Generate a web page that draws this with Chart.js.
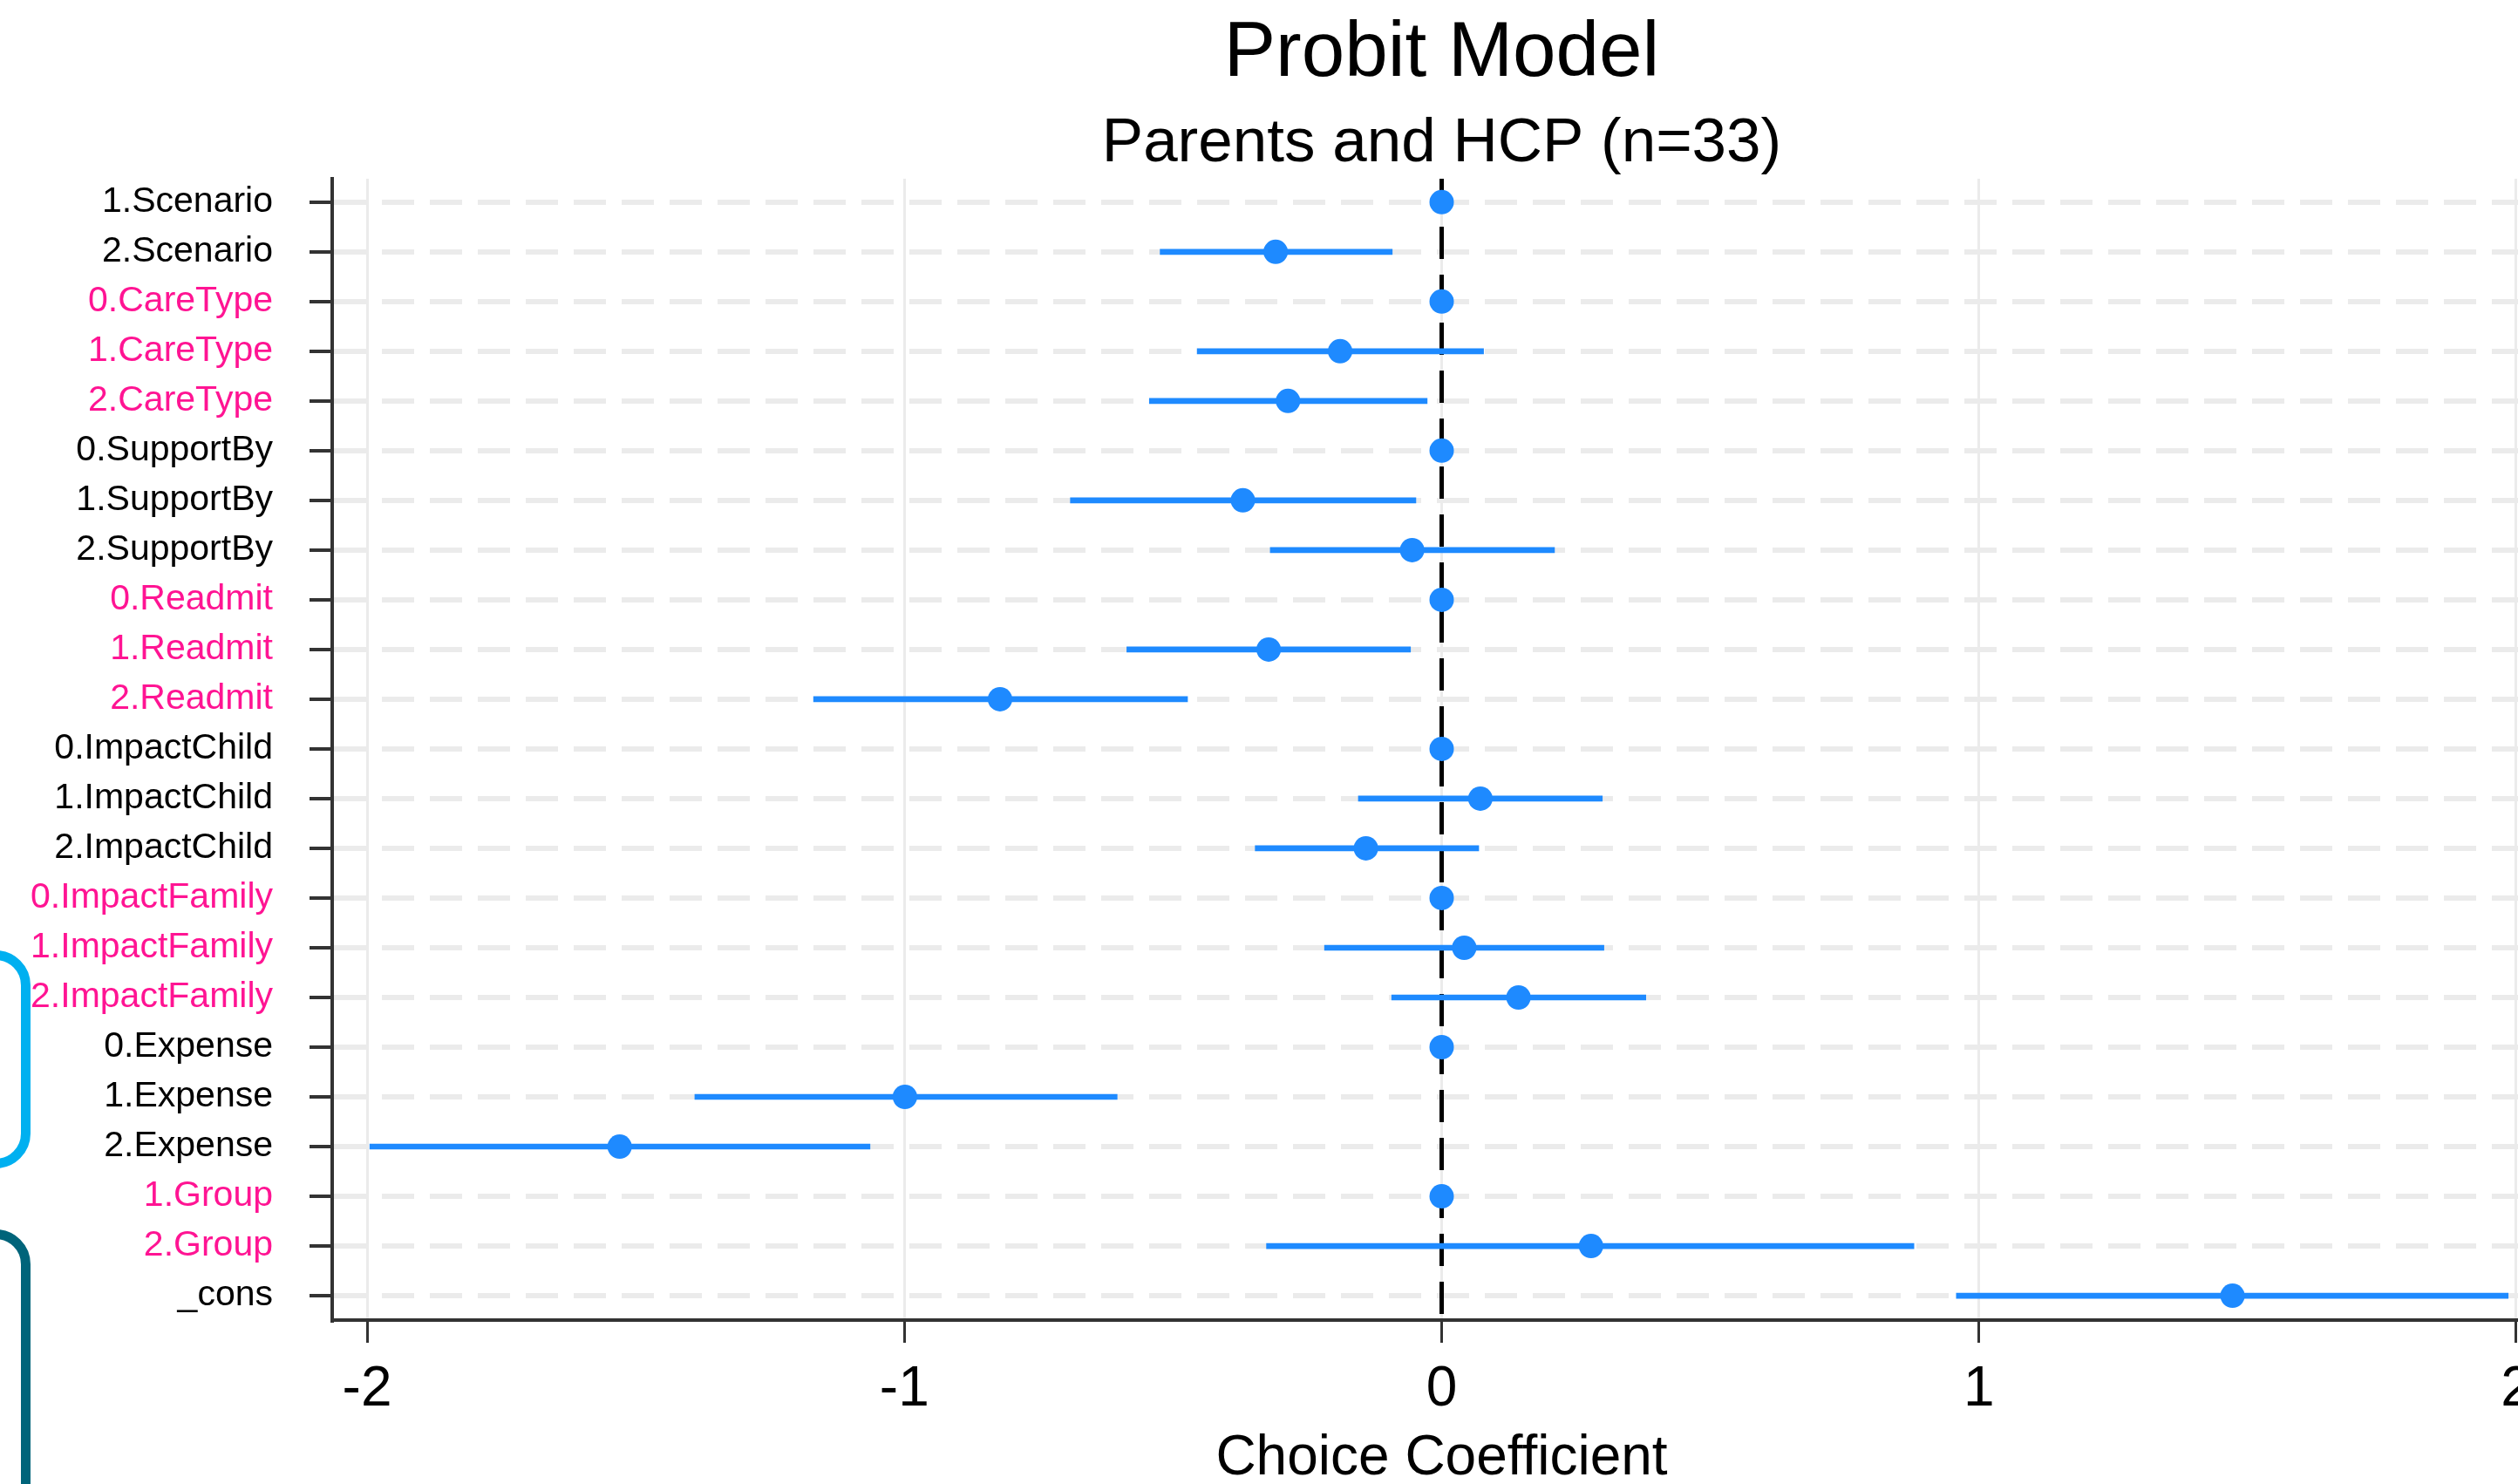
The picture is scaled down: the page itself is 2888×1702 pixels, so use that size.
<!DOCTYPE html>
<html>
<head>
<meta charset="utf-8">
<script src="https://cdn.jsdelivr.net/npm/chart.js@4.4.1/dist/chart.umd.min.js"></script>
<style>
  html, body { margin: 0; padding: 0; background: #ffffff; overflow: hidden; width: 2888px; height: 1702px; }
  #wrap { position: absolute; left: 0; top: 0; width: 2940px; height: 1702px; }
  .bracket { position: absolute; left: -60px; width: 73px; border: 11px solid; border-radius: 40px; box-sizing: content-box; }
  #b1 { top: 1090px; height: 228px; border-color: #00b0f0; }
  #b2 { top: 1410px; height: 400px; border-color: #00647a; }
</style>
</head>
<body>
<div id="wrap"><canvas id="c" width="2940" height="1702"></canvas></div>
<div class="bracket" id="b1"></div>
<div class="bracket" id="b2"></div>
<script>
const categories = ['1.Scenario','2.Scenario','0.CareType','1.CareType','2.CareType','0.SupportBy','1.SupportBy','2.SupportBy','0.Readmit','1.Readmit','2.Readmit','0.ImpactChild','1.ImpactChild','2.ImpactChild','0.ImpactFamily','1.ImpactFamily','2.ImpactFamily','0.Expense','1.Expense','2.Expense','1.Group','2.Group','_cons'];
const coef   = [0, -0.309, 0, -0.189, -0.286, 0, -0.370, -0.055, 0, -0.322, -0.822, 0, 0.072, -0.141, 0, 0.042, 0.143, 0, -0.999, -1.530, 0, 0.278, 1.472];
const ciLow  = [null, -0.524, null, -0.455, -0.544, null, -0.691, -0.319, null, -0.586, -1.169, null, -0.155, -0.347, null, -0.218, -0.093, null, -1.390, -1.995, null, -0.326, 0.958];
const ciHigh = [null, -0.092, null, 0.078, -0.027, null, -0.048, 0.210, null, -0.058, -0.473, null, 0.299, 0.069, null, 0.302, 0.380, null, -0.604, -1.064, null, 0.879, 1.985];
const xTicks = [-2, -1, 0, 1, 2];
const pinkGroups = ['CareType', 'Readmit', 'ImpactFamily', 'Group'];
const titleText = 'Probit Model';
const subtitleText = 'Parents and HCP (n=33)';
const xTitle = 'Choice Coefficient';

const BLUE = '#1e8aff';
const PINK = '#ff1493';
const FONT = "'Liberation Sans', Arial, sans-serif";

const ciData = [];
categories.forEach((c, i) => { if (ciLow[i] !== null) ciData.push({ x: [ciLow[i], ciHigh[i]], y: i }); });
const ptData = categories.map((c, i) => ({ x: coef[i], y: i }));

const titlesPlugin = {
  id: 'titles',
  afterDraw(chart) {
    const { ctx, chartArea } = chart;
    const cx = (chartArea.left + chartArea.right) / 2;
    ctx.save();
    ctx.fillStyle = '#000';
    ctx.textAlign = 'center';
    ctx.textBaseline = 'alphabetic';
    ctx.font = '89px ' + FONT;
    ctx.fillText(titleText, cx, 87);
    ctx.font = '71px ' + FONT;
    ctx.fillText(subtitleText, cx, 185);
    ctx.restore();
  }
};

const zeroLinePlugin = {
  id: 'zeroLine',
  beforeDatasetsDraw(chart) {
    const { ctx, chartArea, scales } = chart;
    const x = scales.x.getPixelForValue(0);
    ctx.save();
    ctx.strokeStyle = '#000';
    ctx.lineWidth = 5;
    ctx.setLineDash([37, 18]);
    ctx.beginPath();
    ctx.moveTo(x, chartArea.top);
    ctx.lineTo(x, chartArea.bottom);
    ctx.stroke();
    ctx.restore();
  }
};

new Chart(document.getElementById('c'), {
  type: 'scatter',
  data: {
    datasets: [
      {
        type: 'scatter',
        data: ptData,
        backgroundColor: BLUE,
        borderWidth: 0,
        pointRadius: 14,
        pointHoverRadius: 14,
        order: 0
      },
      {
        type: 'bar',
        indexAxis: 'y',
        data: ciData,
        backgroundColor: BLUE,
        borderWidth: 0,
        borderSkipped: false,
        barThickness: 6,
        order: 1
      }
    ]
  },
  options: {
    responsive: false,
    animation: false,
    events: [],
    layout: { padding: { top: 205, right: 14, bottom: 0, left: 0 } },
    plugins: { legend: { display: false }, tooltip: { enabled: false }, title: { display: false } },
    scales: {
      y: {
        type: 'linear',
        reverse: true,
        offset: false,
        min: -0.47,
        max: 22.49,
        afterBuildTicks: (axis) => { axis.ticks = categories.map((c, i) => ({ value: i })); },
        afterFit: (scale) => { scale.width = 381; },
        ticks: {
          callback: (v) => categories[v] ?? '',
          color: (ctx) => {
            const lab = categories[ctx.tick ? ctx.tick.value : ctx.index] || '';
            const grp = lab.split('.')[1];
            return pinkGroups.includes(grp) ? PINK : '#000';
          },
          font: { family: FONT, size: 41 },
          padding: 42
        },
        grid: {
          offset: false,
          color: '#ebebeb',
          lineWidth: 6,
          drawTicks: true,
          tickLength: 26,
          tickColor: '#333',
          tickWidth: 4
        },
        border: { display: true, color: '#333', width: 4, dash: [37, 18] }
      },
      x: {
        type: 'linear',
        offset: false,
        min: -2.065,
        max: 2.065,
        afterBuildTicks: (axis) => { axis.ticks = xTicks.map(v => ({ value: v })); },
        afterFit: (scale) => { scale.height = 188; },
        ticks: {
          callback: (v) => String(v),
          color: '#000',
          font: { family: FONT, size: 64 },
          padding: 16
        },
        grid: {
          offset: false,
          color: '#ebebeb',
          lineWidth: 3,
          drawTicks: true,
          tickLength: 26,
          tickColor: '#333',
          tickWidth: 3
        },
        border: { display: true, color: '#333', width: 4 },
        title: {
          display: true,
          text: xTitle,
          color: '#000',
          font: { family: FONT, size: 64, lineHeight: 0.9 },
          padding: { top: 0, bottom: 0 }
        }
      }
    }
  },
  plugins: [zeroLinePlugin, titlesPlugin]
});
</script>
</body>
</html>
